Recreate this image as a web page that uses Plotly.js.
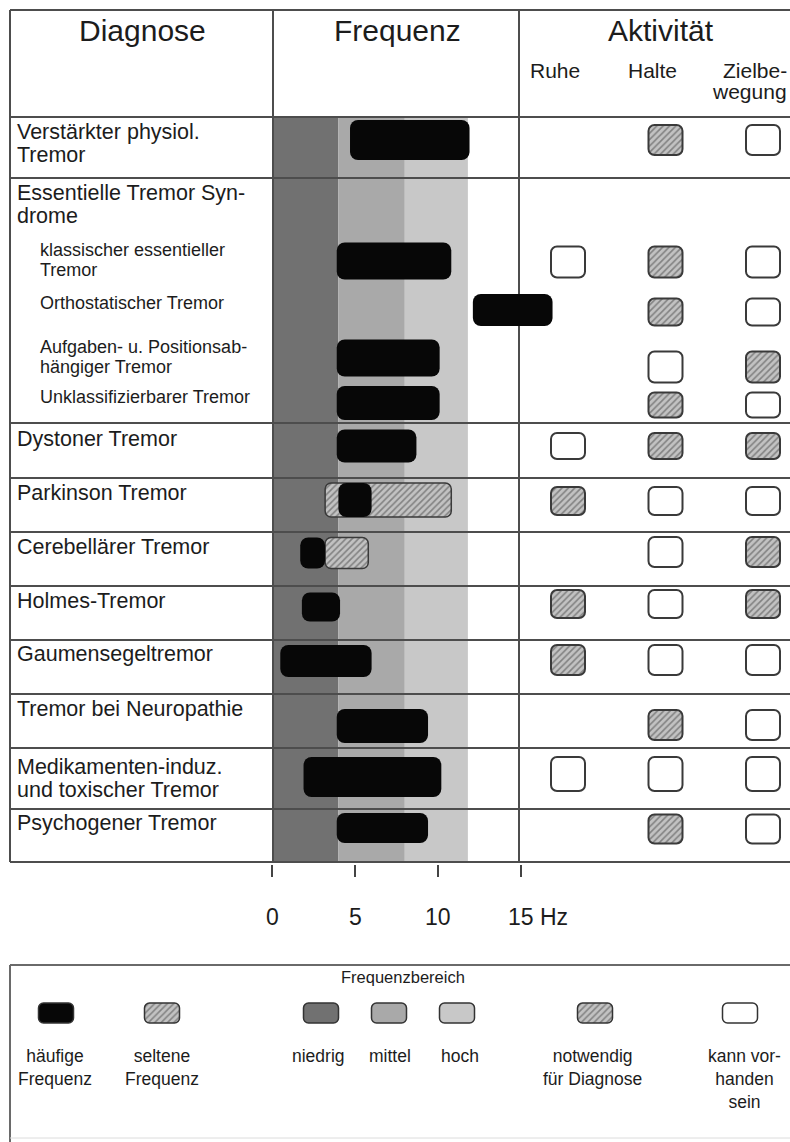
<!DOCTYPE html>
<html><head><meta charset="utf-8">
<script src="https://cdn.plot.ly/plotly-3.0.1.min.js"></script>
<style>html,body{margin:0;padding:0;background:#fff}#chart{width:790px;height:1142px}</style>
</head><body><div id="chart"></div>
<script>
// ================= DATA =================
const headers = ["Diagnose", "Frequenz", "Aktivität"];
const diagnoses = [
  "Verstärkter physiol.<br>Tremor",
  "Essentielle Tremor Syn-<br>drome",
  "klassischer essentieller<br>Tremor",
  "Orthostatischer Tremor",
  "Aufgaben- u. Positionsab-<br>hängiger Tremor",
  "Unklassifizierbarer Tremor",
  "Dystoner Tremor",
  "Parkinson Tremor",
  "Cerebellärer Tremor",
  "Holmes-Tremor",
  "Gaumensegeltremor",
  "Tremor bei Neuropathie",
  "Medikamenten-induz.<br>und toxischer Tremor",
  "Psychogener Tremor"
];
const isSubtype = [false, false, true, true, true, true, false, false, false, false, false, false, false, false];
// häufige Frequenz (Hz)
const commonLow  = [4.7, null, 3.9, 12.1, 3.9, 3.9, 3.9, 4.0, 1.7, 1.8, 0.5, 3.9, 1.9, 3.9];
const commonHigh = [11.9, null, 10.8, 16.9, 10.1, 10.1, 8.7, 6.0, 3.2, 4.1, 6.0, 9.4, 10.2, 9.4];
// seltene Frequenz (Hz)
const rareLow  = [null, null, null, null, null, null, null, 3.2, 3.2, null, null, null, null, null];
const rareHigh = [null, null, null, null, null, null, null, 10.8, 5.8, null, null, null, null, null];
// Aktivität: "n" = notwendig für Diagnose, "k" = kann vorhanden sein, "" = –
const activities = ["Ruhe", "Halte", "Zielbewegung"];
const activityHeaders = ["Ruhe", "Halte", "Zielbe-<br>wegung"];
const ruhe  = ["", "", "k", "", "", "", "k", "n", "", "n", "n", "", "k", ""];
const halte = ["n", "", "n", "n", "k", "n", "n", "k", "k", "k", "k", "n", "k", "n"];
const ziel  = ["k", "", "k", "k", "n", "k", "n", "k", "n", "n", "k", "k", "k", "k"];
// Frequenzbereiche (Hz)
const bandNames = ["niedrig", "mittel", "hoch"];
const bandLow  = [0, 4, 8];
const bandHigh = [4, 8, 11.8];
const freqTicks = [0, 5, 10, 15];
const freqTickText = ["0", "5", "10", "15 Hz"];
const legendTitle = "Frequenzbereich";
const legendLabels = ["häufige<br>Frequenz", "seltene<br>Frequenz", "niedrig", "mittel", "hoch", "notwendig<br>für Diagnose", "kann vor-<br>handen<br>sein"];

// ================= LAYOUT / STYLE =================
const W = 790, H = 1142;
const HZ0_PX = 272, HZ15_PX = 521;
const pxPerHz = (HZ15_PX - HZ0_PX) / 15;
const ACT0_PX = 568, ACT_STEP = 97.5;
const FONT = 'Liberation Sans, Arial, Helvetica, sans-serif';
const TXT = '#1c1c1c';
const LINE = '#4d4d4d';
const BLACK = '#070707';
const EDGE = '#3a3a3a';
const HATCH_BG = '#c2c2c2', HATCH_FG = '#404040';
const hatch = {shape: '/', fillmode: 'overlay', fgcolor: HATCH_FG, size: 4.5, solidity: 0.35};
const bandColors = ['#717171', '#a9a9a9', '#c8c8c8'];

const table = {left: 10, top: 10, headerBottom: 117, bottom: 862, right: W, colDiv: [273, 519],
  rowLines: [178, 423, 478, 532, 586, 640, 694, 748, 809]};
const headerX = [142, 397, 661], headerY = 30, headerSize = 30;
const actHeaderX = [555, 652, 789], actHeaderAnchor = ['center', 'center', 'right'], actHeaderY = 70, actHeaderSize = 21;
const labelY = [132, 193, 250, 303, 347, 397, 439, 493, 547, 601, 654, 709, 767, 823];
const barY = [140, null, 261, 310, 358, 403, 446, 500, 553, 607, 661, 726, 777, 828];
const barH = [40, 0, 37, 32, 37, 34, 33, 34, 31, 29, 32, 34, 40, 30];
const boxY = [140, null, 262, 312, 367, 405, 446, 501, 552, 604, 660, 725, 774, 829];
const boxH = [30, 0, 31, 27, 31, 25, 26, 28, 30, 28, 30, 30, 34, 29];
const boxWpx = 34;
const tickAxisY = 864, tickLabelY = 917, tickFont = 23;
const legendBox = {top: 965, bottom: 1138, left: 10};
const legendTitlePos = {x: 403, y: 977};
const swatchX = [56, 162, 321, 389, 457, 595, 740], swatchY = 1013, swatchW = 35, swatchH = 20;
const swatchColor = [BLACK, HATCH_BG, bandColors[0], bandColors[1], bandColors[2], HATCH_BG, '#ffffff'];
const swatchPattern = ['', '/', '', '', '', '/', ''];
const legendLabelX = [55, 162, 318, 390, 460, 592, 744], legendLabelTop = 1044, legendFont = 17.5;

// ================= HELPERS =================
const traces = [];
const annotations = [];
const shapes = [];
function addText(text, x, y, size, opts) {
  annotations.push(Object.assign({text: text, x: x, y: y, xref: 'x', yref: 'y', showarrow: false,
    font: {family: FONT, size: size, color: TXT}, xanchor: 'center', yanchor: 'middle'}, opts || {}));
}
const px = v => v / W;            // paper x
const py = v => 1 - v / H;        // paper y
function line(x0, y0, x1, y1, color, width) {
  shapes.push({type: 'line', xref: 'paper', yref: 'paper', x0: px(x0), y0: py(y0), x1: px(x1), y1: py(y1),
    line: {color: color || LINE, width: width || 2}, layer: 'below'});
}
const base = {type: 'bar', hoverinfo: 'skip', showlegend: false, yaxis: 'y'};

// ================= BACKGROUND BANDS =================
bandLow.forEach(function (lo, i) {
  shapes.push({type: 'rect', xref: 'x2', yref: 'paper', x0: lo, x1: bandHigh[i],
    y0: py(table.bottom), y1: py(table.headerBottom), fillcolor: bandColors[i], line: {width: 0}, layer: 'below'});
});

// ================= TABLE LINES =================
line(table.left, table.top, table.right, table.top);
line(table.left, table.headerBottom, table.right, table.headerBottom);
table.rowLines.forEach(y => line(table.left, y, table.right, y));
line(table.left, table.bottom, table.right, table.bottom);
line(table.left, table.top, table.left, table.bottom);
table.colDiv.forEach(x => line(x, table.top, x, table.bottom));
// legend frame
line(legendBox.left, legendBox.top, W, legendBox.top, '#6a6a6a', 2);
line(legendBox.left, legendBox.top, legendBox.left, H, '#6a6a6a', 2);
line(legendBox.left, legendBox.bottom, W, legendBox.bottom, '#dcdcdc', 1);

// ================= FREQUENCY BARS =================
const rareIdx = diagnoses.map((_, i) => i).filter(i => rareLow[i] != null);
traces.push(Object.assign({}, base, {orientation: 'h', xaxis: 'x2',
  y: rareIdx.map(i => barY[i]), base: rareIdx.map(i => rareLow[i]),
  x: rareIdx.map(i => rareHigh[i] - rareLow[i]), width: rareIdx.map(i => barH[i]),
  marker: {color: HATCH_BG, cornerradius: 6, line: {color: EDGE, width: 1.5}, pattern: hatch}}));
const comIdx = diagnoses.map((_, i) => i).filter(i => commonLow[i] != null);
traces.push(Object.assign({}, base, {orientation: 'h', xaxis: 'x2',
  y: comIdx.map(i => barY[i]), base: comIdx.map(i => commonLow[i]),
  x: comIdx.map(i => commonHigh[i] - commonLow[i]), width: comIdx.map(i => barH[i]),
  marker: {color: BLACK, cornerradius: 8, line: {width: 0}}}));

// ================= ACTIVITY BOXES =================
const actCols = [ruhe, halte, ziel];
function collect(status) {
  const xs = [], ys = [], hs = [];
  actCols.forEach((col, c) => col.forEach((s, i) => {
    if (s === status) { xs.push(activities[c]); ys.push(boxY[i]); hs.push(boxH[i]); }
  }));
  return {xs, ys, hs};
}
[['n', true], ['k', false]].forEach(function (pair) {
  const d = collect(pair[0]);
  const mk = pair[1]
    ? {color: HATCH_BG, cornerradius: 6, line: {color: EDGE, width: 2}, pattern: hatch}
    : {color: '#ffffff', cornerradius: 6, line: {color: EDGE, width: 2}};
  traces.push(Object.assign({}, base, {orientation: 'v', xaxis: 'x4',
    x: d.xs, base: d.ys.map((y, k) => y - d.hs[k] / 2), y: d.hs, width: d.xs.map(() => boxWpx / ACT_STEP),
    marker: mk}));
});

// ================= LEGEND SWATCHES =================
traces.push(Object.assign({}, base, {orientation: 'v', xaxis: 'x',
  x: swatchX, base: swatchX.map(() => swatchY - swatchH / 2), y: swatchX.map(() => swatchH),
  width: swatchX.map(() => swatchW),
  marker: {color: swatchColor, cornerradius: 5, line: {color: '#333', width: 1.5},
    pattern: Object.assign({}, hatch, {shape: swatchPattern})}}));

// ================= TEXT =================
headers.forEach((t, i) => addText(t, headerX[i], headerY, headerSize));
activityHeaders.forEach(function (t, i) {
  t.split('<br>').forEach((ln, j) => addText(ln, actHeaderX[i], actHeaderY + 21 * j, actHeaderSize, {xanchor: actHeaderAnchor[i]}));
});
diagnoses.forEach(function (t, i) {
  const sub = isSubtype[i];
  t.split('<br>').forEach((ln, j) => addText(ln, sub ? 38 : 15, labelY[i] + j * (sub ? 20 : 23), sub ? 18 : 21.5, {xanchor: 'left'}));
});
freqTicks.forEach(function (v, i) {
  const last = i === freqTicks.length - 1;
  annotations.push({text: freqTickText[i], x: v, y: tickLabelY, xref: 'x2', yref: 'y', showarrow: false,
    font: {family: FONT, size: tickFont, color: TXT}, xanchor: last ? 'left' : 'center', xshift: last ? -15 : 0, yanchor: 'middle'});
});
addText(legendTitle, legendTitlePos.x, legendTitlePos.y, 16.5);
legendLabels.forEach((t, i) => addText(t, legendLabelX[i], legendLabelTop, legendFont, {yanchor: 'top'}));

// ================= LAYOUT =================
const layout = {
  width: W, height: H, autosize: false,
  margin: {l: 0, r: 0, t: 0, b: 0, pad: 0},
  paper_bgcolor: '#ffffff', plot_bgcolor: 'rgba(0,0,0,0)',
  barmode: 'overlay', hovermode: false, showlegend: false,
  xaxis: {range: [0, W], domain: [0, 1], visible: false, fixedrange: true, anchor: 'y'},
  yaxis: {range: [H, 0], domain: [0, 1], visible: false, fixedrange: true},
  xaxis2: {range: [-HZ0_PX / pxPerHz, (W - HZ0_PX) / pxPerHz], domain: [0, 1], anchor: 'free', position: (H - tickAxisY) / H,
    side: 'bottom', showgrid: false, zeroline: false, showline: false, ticks: 'outside', ticklen: 12, tickwidth: 1.5,
    tickcolor: '#444', tickmode: 'array', tickvals: freqTicks, showticklabels: false, fixedrange: true},
  xaxis4: {type: 'category', categoryorder: 'array', categoryarray: activities,
    range: [-ACT0_PX / ACT_STEP, (W - ACT0_PX) / ACT_STEP], domain: [0, 1], anchor: 'y', visible: false, fixedrange: true},
  shapes: shapes,
  annotations: annotations
};
Plotly.newPlot('chart', traces, layout, {displayModeBar: false, staticPlot: true});
</script>
</body></html>
